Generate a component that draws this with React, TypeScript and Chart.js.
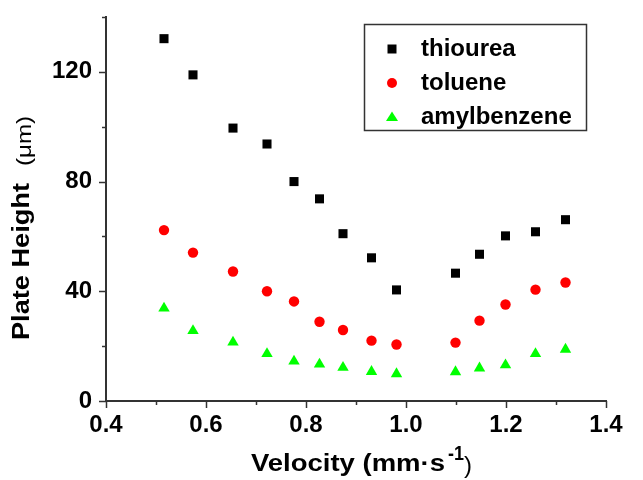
import React, { useEffect, useRef } from "react";
import { Chart, registerables } from "chart.js";

Chart.register(...registerables);

const velocity = [0.516, 0.574, 0.654, 0.722, 0.776, 0.827, 0.874, 0.931, 0.981, 1.099, 1.147, 1.199, 1.259, 1.319];
const thiourea = [132.1, 118.9, 99.5, 93.7, 80.0, 73.7, 61.0, 52.2, 40.5, 46.6, 53.5, 60.2, 61.7, 66.1];
const toluene = [62.3, 54.1, 47.2, 40.0, 36.3, 28.9, 25.9, 22.0, 20.6, 21.3, 29.3, 35.2, 40.6, 43.2];
const amylbenzene = [33.8, 25.6, 21.4, 17.2, 14.5, 13.4, 12.2, 10.7, 9.9, 10.6, 12.0, 13.1, 17.2, 18.8];

const seriesNames = ["thiourea", "toluene", "amylbenzene"];
const seriesColors = ["#000000", "#ff0000", "#00ff00"];
const xTickValues = [0.4, 0.5, 0.6, 0.7, 0.8, 0.9, 1.0, 1.1, 1.2, 1.3, 1.4];
const yTickValues = [0, 20, 40, 60, 80, 100, 120, 140];

const FONT = '"Liberation Sans", Arial, sans-serif';

function drawStretched(ctx: CanvasRenderingContext2D, text: string, font: string, x: number, y: number, target: number, rot: number) {
  ctx.save();
  ctx.font = font;
  const w = ctx.measureText(text).width;
  ctx.translate(x, y);
  ctx.rotate(rot);
  ctx.scale(target / w, 1);
  ctx.textAlign = "left";
  ctx.textBaseline = "alphabetic";
  ctx.fillStyle = "#000";
  ctx.fillText(text, 0, 0);
  ctx.restore();
}

function drawMarker(ctx: CanvasRenderingContext2D, style: string, x: number, y: number, color: string) {
  ctx.save();
  ctx.fillStyle = color;
  ctx.beginPath();
  if (style === "rect") {
    ctx.rect(x - 4.5, y - 4.5, 9, 9);
  } else if (style === "circle") {
    ctx.arc(x, y, 5, 0, Math.PI * 2);
  } else {
    ctx.moveTo(x, y - 5.5);
    ctx.lineTo(x + 6, y + 4);
    ctx.lineTo(x - 6, y + 4);
    ctx.closePath();
  }
  ctx.fill();
  ctx.restore();
}

const decorPlugin = {
  id: "decor",
  afterDraw(chart: any) {
    const ctx: CanvasRenderingContext2D = chart.ctx;
    const xs = chart.scales.x;
    const ys = chart.scales.y;
    const area = chart.chartArea;
    ctx.save();
    ctx.strokeStyle = "#333";
    ctx.lineWidth = 1.5;
    xTickValues.forEach((v, i) => {
      const px = Math.round(xs.getPixelForValue(v)) + 0.5;
      const len = i % 2 === 0 ? 7 : 4;
      ctx.beginPath();
      ctx.moveTo(px, area.bottom);
      ctx.lineTo(px, area.bottom + len);
      ctx.stroke();
    });
    yTickValues.forEach((v, i) => {
      const py = Math.round(ys.getPixelForValue(v)) + 0.5;
      const len = i % 2 === 0 ? 7 : 4;
      ctx.beginPath();
      ctx.moveTo(area.left, py);
      ctx.lineTo(area.left - len, py);
      ctx.stroke();
    });
    ctx.restore();

    // axis titles
    drawStretched(ctx, "Plate Height", `bold 23px ${FONT}`, 29, 340, 157, -Math.PI / 2);
    drawStretched(ctx, "(\u03bcm)", `20px ${FONT}`, 31, 166, 50, -Math.PI / 2);
    drawStretched(ctx, "Velocity (mm\u00b7s", `bold 23px ${FONT}`, 251, 471, 194, 0);
    drawStretched(ctx, "-1", `bold 20px ${FONT}`, 448, 460, 16, 0);
    drawStretched(ctx, ")", `24px ${FONT}`, 464, 473, 8, 0);

    // legend
    ctx.save();
    ctx.strokeStyle = "#333";
    ctx.lineWidth = 1.5;
    ctx.strokeRect(364.5, 24.5, 222, 106);
    const styles = ["rect", "circle", "triangle"];
    const baselines = [56, 90, 124];
    seriesNames.forEach((name, i) => {
      drawMarker(ctx, styles[i], 392, baselines[i] - 7, seriesColors[i]);
      ctx.font = `bold 24px ${FONT}`;
      ctx.fillStyle = "#000";
      ctx.textAlign = "left";
      ctx.textBaseline = "alphabetic";
      ctx.fillText(name, 421, baselines[i]);
    });
    ctx.restore();
  },
};

export default function App() {
  const ref = useRef<HTMLCanvasElement | null>(null);
  useEffect(() => {
    if (!ref.current) return;
    const mk = (vals: number[]) => velocity.map((x, i) => ({ x, y: vals[i] }));
    const chart = new Chart(ref.current, {
      type: "scatter",
      data: {
        datasets: [
          { label: seriesNames[0], data: mk(thiourea), pointStyle: "rect", pointRadius: 6.4, backgroundColor: seriesColors[0], borderColor: seriesColors[0], borderWidth: 0 },
          { label: seriesNames[1], data: mk(toluene), pointStyle: "circle", pointRadius: 5.2, backgroundColor: seriesColors[1], borderColor: seriesColors[1], borderWidth: 0 },
          { label: seriesNames[2], data: mk(amylbenzene), pointStyle: "triangle", pointRadius: 6.6, backgroundColor: seriesColors[2], borderColor: seriesColors[2], borderWidth: 0 },
        ],
      },
      options: {
        animation: false,
        responsive: false,
        devicePixelRatio: 1,
        layout: { padding: { left: 0, right: 37, top: 17, bottom: 0 } },
        plugins: { legend: { display: false }, tooltip: { enabled: false } },
        scales: {
          x: {
            type: "linear",
            min: 0.4,
            max: 1.4,
            grid: { display: false, drawTicks: false },
            border: { display: true, color: "#333", width: 2 },
            ticks: {
              stepSize: 0.1,
              autoSkip: false,
              maxRotation: 0,
              padding: 10,
              color: "#000",
              font: { family: FONT, size: 24, weight: "bold" },
              callback: (v: any) => (Math.round(Number(v) * 10) % 2 === 0 ? Number(v).toFixed(1) : ""),
            },
            afterFit: (s: any) => { s.height = 79; s.paddingLeft = 0; s.paddingRight = 0; },
          },
          y: {
            type: "linear",
            min: 0,
            max: 140,
            grid: { display: false, drawTicks: false },
            border: { display: true, color: "#333", width: 2 },
            ticks: {
              stepSize: 20,
              autoSkip: false,
              padding: 14,
              color: "#000",
              font: { family: FONT, size: 24, weight: "bold" },
              callback: (v: any) => (Math.round(Number(v)) % 40 === 0 ? String(v) : ""),
            },
            afterFit: (s: any) => { s.width = 106; s.paddingTop = 0; s.paddingBottom = 0; },
          },
        },
      },
      plugins: [decorPlugin],
    } as any);
    return () => chart.destroy();
  }, []);
  return (
    <div style={{ position: "fixed", left: 0, top: 0, width: 643, height: 480, background: "#fff" }}>
      <canvas ref={ref} width={643} height={480} style={{ width: 643, height: 480 }} />
    </div>
  );
}
